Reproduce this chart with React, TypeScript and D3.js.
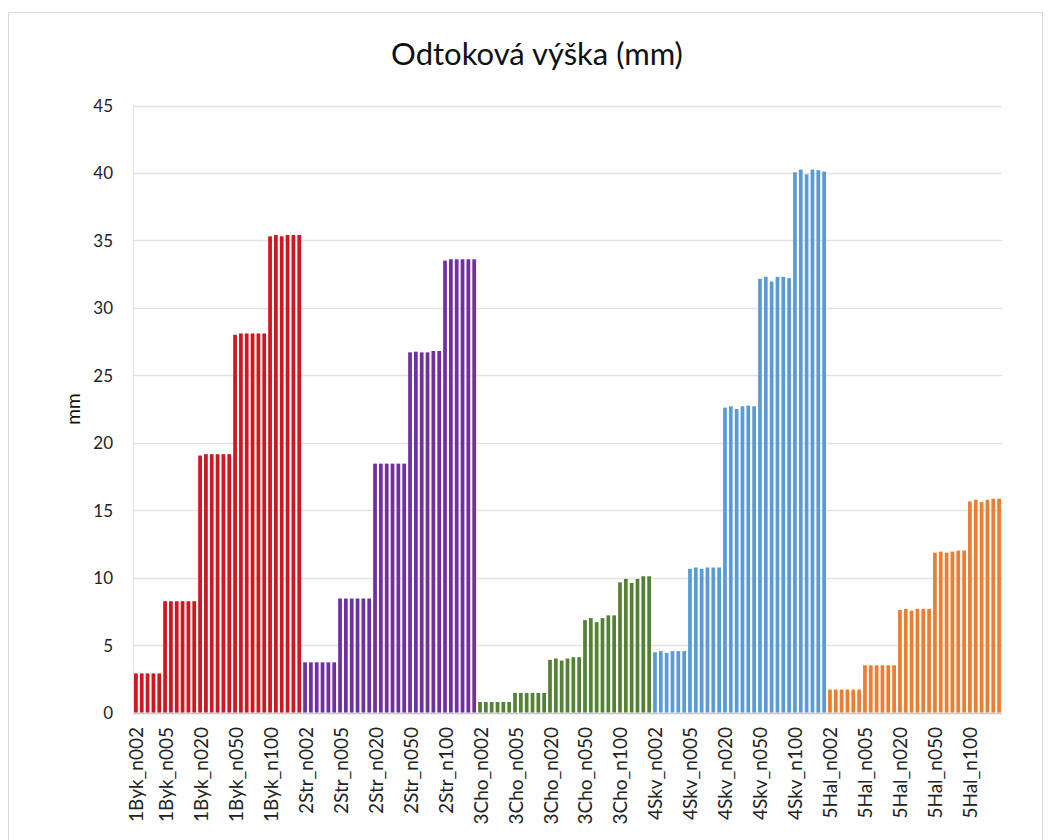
import React from "react";
import * as d3 from "d3";

const catchments = ["1Byk", "2Str", "3Cho", "4Skv", "5Hal"];
const periods = ["n002", "n005", "n020", "n050", "n100"];
const colors = ["#D0161E", "#7030A0", "#548235", "#5B9BD5", "#ED7D31"];

const byk = [
  [2.9, 2.9, 2.9, 2.9, 2.9],
  [8.25, 8.25, 8.25, 8.25, 8.25, 8.25],
  [19.05, 19.15, 19.15, 19.15, 19.15, 19.15],
  [28.0, 28.1, 28.1, 28.1, 28.1, 28.1],
  [35.3, 35.4, 35.3, 35.4, 35.4, 35.4],
];
const str = [
  [3.72, 3.72, 3.72, 3.72, 3.72, 3.72],
  [8.45, 8.45, 8.45, 8.45, 8.45, 8.45],
  [18.45, 18.45, 18.45, 18.45, 18.45, 18.45],
  [26.7, 26.75, 26.7, 26.7, 26.8, 26.8],
  [33.5, 33.6, 33.6, 33.6, 33.6, 33.6],
];
const cho = [
  [0.78, 0.78, 0.78, 0.78, 0.78, 0.78],
  [1.45, 1.45, 1.45, 1.45, 1.45, 1.45],
  [3.9, 4.0, 3.85, 4.0, 4.1, 4.1],
  [6.85, 7.0, 6.7, 7.0, 7.2, 7.2],
  [9.65, 9.9, 9.6, 9.9, 10.1, 10.1],
];
const skv = [
  [4.47, 4.55, 4.42, 4.55, 4.55, 4.55],
  [10.65, 10.75, 10.65, 10.75, 10.75, 10.75],
  [22.6, 22.7, 22.5, 22.7, 22.75, 22.7],
  [32.15, 32.3, 31.95, 32.3, 32.3, 32.2],
  [40.05, 40.25, 39.9, 40.25, 40.2, 40.1],
];
const hal = [
  [1.7, 1.7, 1.7, 1.7, 1.7, 1.7],
  [3.5, 3.5, 3.5, 3.5, 3.5, 3.5],
  [7.6, 7.68, 7.55, 7.68, 7.68, 7.68],
  [11.85, 11.93, 11.85, 11.93, 12.0, 12.0],
  [15.65, 15.77, 15.6, 15.77, 15.85, 15.85],
];
const seriesValues = [byk, str, cho, skv, hal];
const yTicks = [0, 5, 10, 15, 20, 25, 30, 35, 40, 45];

type Bar = { key: string; label: string; value: number; color: string };

const bars: Bar[] = [];
catchments.forEach((c, ci) => {
  periods.forEach((p, pi) => {
    seriesValues[ci][pi].forEach((v, i) => {
      bars.push({
        key: `${c}_${p}_${i}`,
        label: i === 0 ? `${c}_${p}` : "",
        value: v,
        color: colors[ci],
      });
    });
  });
});

const FONT = "Lato, 'Open Sans', sans-serif";

export default function App() {
  const left = 133;
  const right = 1002;
  const top = 105.5;
  const bottom = 712.5;
  const x = d3
    .scaleBand<string>()
    .domain(bars.map((b) => b.key))
    .range([left, right])
    .paddingInner(0.36)
    .paddingOuter(0.18);
  const y = d3.scaleLinear().domain([0, 45]).range([bottom, top]);

  return (
    <svg
      width={1052}
      height={840}
      style={{ position: "absolute", left: 0, top: 0, background: "#fff" }}
    >
      <rect x={0} y={0} width={1052} height={840} fill="#fff" />
      <rect
        x={8.5}
        y={12.5}
        width={1034}
        height={840}
        fill="#fff"
        stroke="#D9D9D9"
        strokeWidth={1}
      />
      <text
        x={537}
        y={65}
        textAnchor="middle"
        fontFamily={FONT}
        fontSize={31}
        fill="#111"
      >
        Odtoková výška (mm)
      </text>
      {yTicks.map((t) => (
        <g key={t}>
          <line
            x1={left}
            x2={right}
            y1={Math.round(y(t)) + 0.5}
            y2={Math.round(y(t)) + 0.5}
            stroke={t === 0 ? "#C8C8C8" : "#E3E3E3"}
            strokeWidth={1.5}
          />
          <text
            x={113}
            y={y(t)}
            textAnchor="end"
            dominantBaseline="central"
            fontFamily={FONT}
            fontSize={17}
            fill="#222"
          >
            {t}
          </text>
        </g>
      ))}
      <line
        x1={left + 0.5}
        x2={left + 0.5}
        y1={top}
        y2={bottom}
        stroke="#E3E3E3"
        strokeWidth={1}
      />
      {bars.map((b) => (
        <rect
          key={b.key}
          x={x(b.key)}
          y={y(b.value)}
          width={x.bandwidth()}
          height={y(0) - y(b.value)}
          fill={b.color}
        />
      ))}
      {bars
        .filter((b) => b.label)
        .map((b) => {
          const cx = (x(b.key) as number) + x.bandwidth() / 2;
          return (
            <text
              key={b.key}
              transform={`translate(${cx},727) rotate(-90)`}
              textAnchor="end"
              dominantBaseline="central"
              fontFamily={FONT}
              fontSize={19}
              fill="#222"
            >
              {b.label}
            </text>
          );
        })}
      <text
        transform={`translate(72,${(top + bottom) / 2}) rotate(-90)`}
        textAnchor="middle"
        dominantBaseline="central"
        fontFamily={FONT}
        fontSize={19}
        fill="#111"
      >
        mm
      </text>
    </svg>
  );
}
